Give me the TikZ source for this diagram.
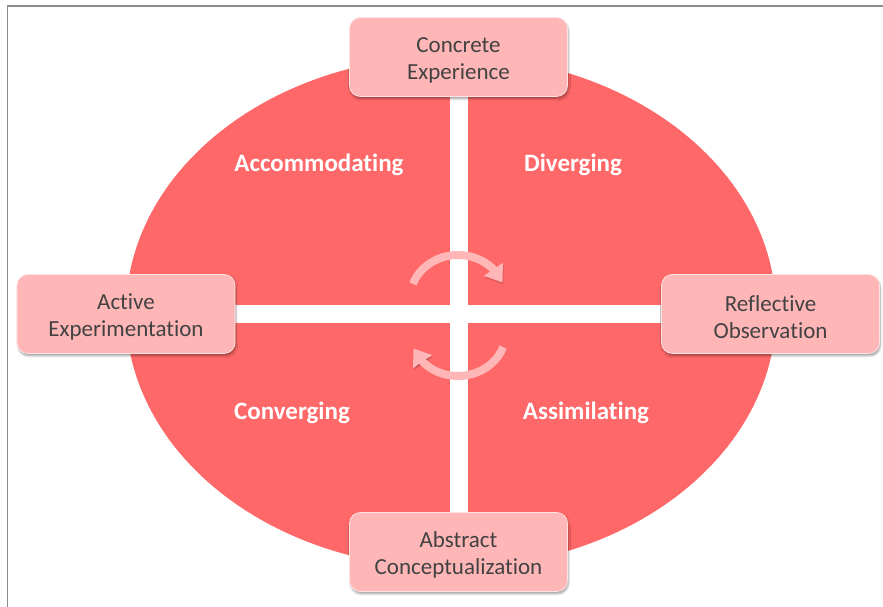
\documentclass[tikz,border=0pt]{standalone}
\usepackage{fontspec}
\setmainfont{Carlito}[Ligatures=NoCommon]
\usetikzlibrary{arrows.meta,bending,backgrounds,calc,shadows.blur}
\definecolor{cycleColor}{HTML}{FF6868}
\definecolor{modeColor}{HTML}{FFB6B7}
\definecolor{modeTextColor}{HTML}{424242}
\definecolor{frameColor}{HTML}{8C8C8C}
\newcommand{\modeStrut}{\rule{0pt}{22bp}}

\begin{document}
\begin{tikzpicture}[x=1bp,y=1bp,%
    >={Triangle[length=16bp,width=22bp,flex]},align=center,%
    every node/.style={font=\fontsize{23bp}{27bp}\selectfont}]
    \tikzstyle{mode}=[text centered,rectangle,rounded corners=11bp,%
      fill=modeColor,draw=white!60!modeColor,line width=0.8bp,text=modeTextColor,%
      minimum width=218bp,minimum height=79bp,%
      blur shadow={shadow xshift=1bp,shadow yshift=-2.5bp,shadow blur steps=6,shadow opacity=35}]
    \tikzstyle{learnStyle}=[text=white,font=\fontsize{25bp}{30bp}\selectfont\bfseries]
    \tikzstyle{bar}=[draw=white,line width=18bp]
    \tikzstyle{turn}=[->,draw=modeColor,line width=8bp,%
      preaction={draw=black,draw opacity=0.12,transform canvas={xshift=1bp,yshift=-2bp}}]
    \useasboundingbox (0,0) rectangle (883,607);
    \draw[frameColor,line width=1.5bp] (7.5,0) -- (7.5,601) -- (883,601);
    % Learning modes
    \node (concrete)   [mode] at (458.5,550) {\modeStrut Concrete\\Experience};
    \node (reflective) [mode] at (770.5,293) {\modeStrut Reflective\\Observation};
    \node (abstract)   [mode] at (458.5,55)  {\modeStrut Abstract\\Conceptualization};
    \node (active)     [mode] at (126,293)   {\modeStrut Active\\Experimentation};
    % Learning styles
    \node (accommodating) [learnStyle] at (319,442) {Accommodating};
    \node (diverging)     [learnStyle] at (573,442) {Diverging};
    \node (converging)    [learnStyle] at (292,194) {Converging};
    \node (assimilating)  [learnStyle] at (586,194) {Assimilating};
    % Cycle and axes
    \begin{scope}[on background layer]
      \fill[cycleColor] (451,295) ellipse [x radius=325bp,y radius=256bp];
      \draw[bar] (concrete) -- (abstract);
      \draw[bar] (active) -- (reflective);
    \end{scope}
    \coordinate (hub) at (458,293);
    \draw[turn] ($(hub)+(0,15)+(160:48bp and 44bp)$)
      arc[start angle=160,end angle=22,x radius=48bp,y radius=44bp];
    \draw[turn] ($(hub)+(0,-18)+(-20:48bp and 44bp)$)
      arc[start angle=-20,end angle=-158,x radius=48bp,y radius=44bp];
  \end{tikzpicture}
\end{document}
